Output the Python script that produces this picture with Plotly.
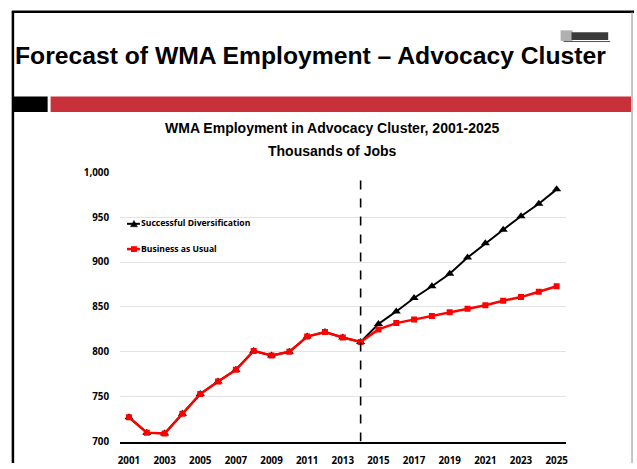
import plotly.graph_objects as go

# Annual employment, thousands of jobs
years = list(range(2001, 2026))
history = [727, 710, 709, 731, 753, 767, 780, 801, 796, 800, 817, 822, 816, 811]
diversification_forecast = [831, 845, 860, 873, 887, 905, 921, 936, 951, 965, 981]
business_forecast = [825, 832, 836, 840, 844, 848, 852, 857, 861, 867, 873]
forecast_start = 2014

diversification = history + diversification_forecast
business_as_usual = history + business_forecast

y_ticks = [700, 750, 800, 850, 900, 950, 1000]
x_ticks = list(range(2001, 2026, 2))

W, H = 637, 469


def px(x):
    return x / W


def py(y):
    return 1 - y / H


tick_font = dict(family="Open Sans", size=9.8, color="#000000", weight="bold")

fig = go.Figure()
fig.add_trace(go.Scatter(
    x=years, y=diversification, mode="lines+markers",
    name="Successful Diversification",
    line=dict(color="#000000", width=2),
    marker=dict(symbol="triangle-up", size=8, color="#000000"),
))
fig.add_trace(go.Scatter(
    x=years, y=business_as_usual, mode="lines+markers",
    name="Business as Usual",
    line=dict(color="#ff0000", width=2.5),
    marker=dict(symbol="square", size=6, color="#ff0000"),
))

shapes = [
    # slide frame
    dict(type="line", xref="paper", yref="paper", x0=px(11), x1=px(11), y0=py(4), y1=0,
         line=dict(color="#000000", width=2.5)),
    dict(type="line", xref="paper", yref="paper", x0=px(10), x1=1, y0=py(5), y1=py(5),
         line=dict(color="#000000", width=2.5)),
    dict(type="line", xref="paper", yref="paper", x0=px(635), x1=px(635), y0=py(5), y1=0,
         line=dict(color="#8c8c8c", width=1)),
    # header bars
    dict(type="rect", xref="paper", yref="paper", x0=px(11), x1=px(46), y0=py(92), y1=py(108),
         fillcolor="#000000", line=dict(width=0)),
    dict(type="rect", xref="paper", yref="paper", x0=px(49), x1=px(634), y0=py(92), y1=py(108),
         fillcolor="#c8303a", line=dict(width=0)),
    # small logo mark
    dict(type="rect", xref="paper", yref="paper", x0=px(563), x1=px(575), y0=py(24), y1=py(35),
         fillcolor="#b0b0b0", line=dict(width=0)),
    dict(type="rect", xref="paper", yref="paper", x0=px(574), x1=px(611), y0=py(26), y1=py(34),
         fillcolor="#3a3a3a", line=dict(width=0)),
    dict(type="line", xref="paper", yref="paper", x0=px(566), x1=px(613), y0=py(35.5), y1=py(35.5),
         line=dict(color="#555555", width=1)),
    # forecast divider
    dict(type="line", xref="x", yref="y", x0=forecast_start, x1=forecast_start, y0=700, y1=995,
         line=dict(color="#000000", width=1.6, dash="dash")),
    # legend keys
    dict(type="line", xref="paper", yref="paper", x0=px(126), x1=px(139), y0=py(223), y1=py(223),
         line=dict(color="#000000", width=2)),
    dict(type="path", xref="paper", yref="paper",
         path=f"M {px(129.5)},{py(226)} L {px(136.5)},{py(226)} L {px(133)},{py(219.5)} Z",
         fillcolor="#000000", line=dict(color="#000000", width=0.5)),
    dict(type="line", xref="paper", yref="paper", x0=px(126), x1=px(139), y0=py(249), y1=py(249),
         line=dict(color="#ff0000", width=2.5)),
    dict(type="rect", xref="paper", yref="paper", x0=px(130), x1=px(136), y0=py(252), y1=py(246),
         fillcolor="#ff0000", line=dict(width=0)),
]

annotations = [
    dict(text="Forecast of WMA Employment \u2013 Advocacy Cluster", xref="paper", yref="paper",
         x=px(11), y=py(50), xanchor="left", yanchor="middle", showarrow=False,
         font=dict(family="Liberation Sans", size=24.7, color="#000000", weight="bold")),
    dict(text="WMA Employment in Advocacy Cluster, 2001-2025", xref="paper", yref="paper",
         x=px(333), y=py(124), xanchor="center", yanchor="middle", showarrow=False,
         font=dict(family="Liberation Sans", size=14, color="#000000", weight="bold")),
    dict(text="Thousands of Jobs", xref="paper", yref="paper",
         x=px(333), y=py(148), xanchor="center", yanchor="middle", showarrow=False,
         font=dict(family="Liberation Sans", size=14, color="#000000", weight="bold")),
    dict(text="Successful Diversification", xref="paper", yref="paper",
         x=px(138), y=py(222.5), xanchor="left", yanchor="middle", showarrow=False,
         font=dict(family="Open Sans", size=8.6, color="#000000", weight="bold")),
    dict(text="Business as Usual", xref="paper", yref="paper",
         x=px(138), y=py(248.5), xanchor="left", yanchor="middle", showarrow=False,
         font=dict(family="Open Sans", size=8.6, color="#000000", weight="bold")),
]

fig.update_layout(
    width=W, height=H,
    margin=dict(l=0, r=0, t=0, b=0),
    paper_bgcolor="#ffffff", plot_bgcolor="#ffffff",
    showlegend=False,
    shapes=shapes,
    annotations=annotations,
    xaxis=dict(
        domain=[px(119), px(568)],
        range=[2000.5, 2025.5],
        tickvals=x_ticks, ticktext=[str(t) for t in x_ticks],
        tickfont=tick_font, showgrid=False, zeroline=False,
        showline=True, linecolor="#000000", linewidth=1.5, ticks="",
        ticklabelstandoff=9,
    ),
    yaxis=dict(
        domain=[py(447), py(170)],
        range=[700, 1000],
        tickvals=y_ticks, tickformat=",d",
        tickfont=tick_font, showgrid=True, gridcolor="#e3e3e3", gridwidth=1,
        zeroline=False, showline=False, ticks="", ticklabelstandoff=10,
    ),
)

fig.write_html("out.html")
